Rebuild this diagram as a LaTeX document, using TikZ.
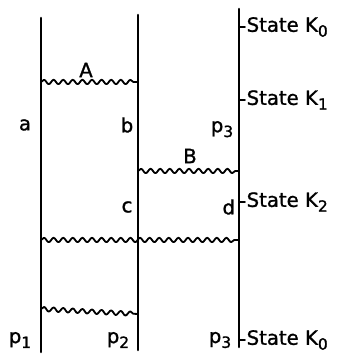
\documentclass[tikz,border=0pt]{standalone}
\usepackage{fontspec}
\setmainfont{DejaVu Sans}[BoldFont=DejaVu Sans,BoldFeatures={FakeBold=1.2}]
\usetikzlibrary{decorations.pathmorphing}

\newcommand{\lowidx}[1]{\raisebox{-0.45ex}{\fontsize{11}{12}\selectfont #1}}

\begin{document}
\begin{tikzpicture}[
  line cap=round,
  line join=round,
  font=\fontsize{14}{16}\selectfont\bfseries,
  particle/.style={line width=1.8pt},
  photon/.style={
    line width=1.3pt,
    decorate,
    decoration={snake,amplitude=0.055cm,segment length=0.24cm}
  },
  tick/.style={line width=1.3pt}
]
  \useasboundingbox (0,0) rectangle (8.625,8.95);

  % Абсциссы линий
  \def\xone{1.025}
  \def\xtwo{3.45}
  \def\xthree{5.975}

  % Концы линий частиц
  \coordinate (p1top) at (\xone,8.5);
  \coordinate (p1bot) at (\xone,0.15);
  \coordinate (p2top) at (\xtwo,8.575);
  \coordinate (p2bot) at (\xtwo,0.2);
  \coordinate (p3top) at (\xthree,8.725);
  \coordinate (p3bot) at (\xthree,0.275);

  % Линии частиц
  \draw[particle] (p1top) -- (p1bot);
  \draw[particle] (p2top) -- (p2bot);
  \draw[particle] (p3top) -- (p3bot);

  % Точки обмена
  \coordinate (Aleft) at (\xone,6.9);
  \coordinate (Aright) at (\xtwo,6.9);
  \coordinate (Bleft) at (\xtwo,4.675);
  \coordinate (Bright) at (\xthree,4.675);
  \coordinate (Cleft) at (\xone,2.95);
  \coordinate (Cright) at (\xthree,2.95);
  \coordinate (Dleft) at (\xone,1.225);
  \coordinate (Dright) at (\xtwo,1.1);

  % Волнистые линии
  \draw[photon] (Aleft) -- (Aright);
  \draw[photon] (Bleft) -- (Bright);
  \draw[photon] (Cleft) -- (Cright);
  \draw[photon] (Dleft) -- (Dright);

  % Подписи обменов
  \node (labA) at (2.15,7.2) {A};
  \node (labB) at (4.75,5.05) {B};

  % Подписи на линиях
  \node (laba) at (0.625,5.825) {a};
  \node (labb) at (3.175,5.825) {b};
  \node (labpthreeup) at (5.55,5.72) {p\lowidx{3}};
  \node (labc) at (3.175,3.775) {c};
  \node (labd) at (5.72,3.775) {d};
  \node (labpone) at (0.5,0.45) {p\lowidx{1}};
  \node (labptwo) at (2.95,0.45) {p\lowidx{2}};
  \node (labpthree) at (5.5,0.45) {p\lowidx{3}};

  % Состояния
  \foreach \yy/\kk/\nm in {8.275/0/s0, 6.45/1/s1, 3.9/2/s2, 0.45/0/s3}{
    \coordinate (\nm a) at (\xthree,\yy);
    \coordinate (\nm b) at (\xthree+0.15,\yy);
    \draw[tick] (\nm a) -- (\nm b);
    \node[anchor=west,inner sep=1pt] (\nm) at (\nm b) {State K\lowidx{\kk}};
  }
\end{tikzpicture}
\end{document}
